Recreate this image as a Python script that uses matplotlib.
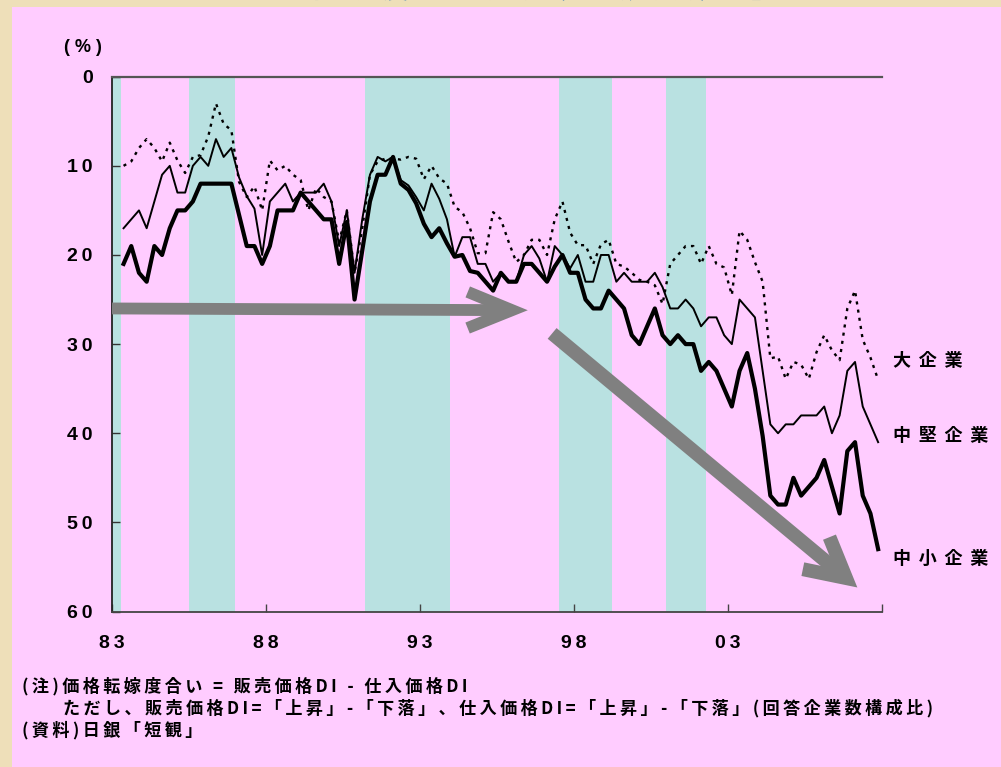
import numpy as np
import pandas as pd
import matplotlib.pyplot as plt
from matplotlib.patches import FancyArrowPatch, Rectangle

plt.rcParams['font.family'] = ['Noto Sans CJK JP', 'DejaVu Sans']

# Tankan survey dates (quarterly, May 1983 - Nov 2007), as decimal years
dates = pd.date_range('1983-05-01', periods=99, freq='3MS')
t = dates.year + (dates.month - 0.5) / 12

# price pass-through DI, shown as a negative depth (%)
large = [10, 9.5, 8, 7, 8, 9.5, 7.4, 9.4, 10.8, 9, 8.8, 6.7, 3, 5.3, 6, 11.8, 13.5, 12.3, 15, 9.4,
         10.5, 10, 11, 11.6, 15, 12.5, 13.5, 14, 18.5, 15, 22, 17, 11, 9.5, 9.2, 9.2, 9.3, 9, 9.2, 11.5,
         10, 11.4, 12, 14.6, 15.2, 17, 19.8, 19.8, 15.2, 16, 18.5, 20.8, 20, 18.3, 18.3, 20, 16, 14, 17.5, 18.9,
         18.9, 21, 18.8, 18.3, 21, 21.3, 22, 22.8, 23, 23.4, 25.5, 21, 20, 19, 19, 21, 19, 21, 21.4, 24.5,
         17.3, 18.3, 20.8, 23, 31.6, 31.4, 33.9, 32, 32.3, 33.9, 30.9, 29, 30.7, 31.8, 26, 24, 29.5, 31.5, 34]
medium = [17, 16, 15, 17, 14, 11, 10, 13, 13, 10, 9, 10, 7, 9, 8, 11.3, 13.4, 14.8, 20, 14,
          13, 12, 14, 13, 13, 13, 12, 14, 19, 15, 22, 16, 11, 9, 9.5, 9, 11.6, 12.2, 13.5, 15,
          12, 13.7, 16, 20.2, 18, 18, 21, 21, 23, 22, 23, 23, 20, 19, 20.4, 23, 19, 20, 21.5, 20,
          23, 23, 20, 20, 23, 22, 23, 23, 23, 22, 23.6, 26, 26, 25, 26, 28, 27, 27, 29, 30,
          25, 26, 27, 33, 39, 40, 39, 39, 38, 38, 38, 37, 40, 38, 33, 32, 37, 39, 41]
small = [21, 19, 22, 23, 19, 20, 17, 15, 15, 14, 12, 12, 12, 12, 12, 15.5, 19, 19, 21, 19,
         15, 15, 15, 13, 14, 15, 16, 16, 21, 16.3, 25, 19.5, 14, 11, 11, 9, 12, 12.7, 14.2, 16.5,
         18, 17, 18.7, 20.2, 20, 21.8, 22, 23, 24, 22, 23, 23, 21, 21, 22, 23, 21.3, 20, 22, 22,
         25, 26, 26, 24, 25, 26, 29, 30, 28, 26, 29, 30, 29, 30, 30, 33, 32, 33, 35, 37,
         33, 31, 35, 40.3, 47, 48, 48, 45, 47, 46, 45, 43, 46, 49, 42, 41, 47, 49, 53]

# recession periods (shaded)
recessions = [(1983.0, 1983.29), (1985.5, 1987.0), (1991.21, 1993.99),
              (1997.51, 1999.25), (2000.99, 2002.28)]

xticks = [1983, 1988, 1993, 1998, 2003, 2008]
xticklabels = ['83', '88', '93', '98', '03', '']

PINK = '#FFCCFF'
TEAL = '#B9E1E1'
ARROW = '#808080'
THIN = '\u2009'


def spaced(s):
    # widen the character pitch with thin spaces
    return THIN.join(s)


fig = plt.figure(figsize=(10.01, 7.67), dpi=100, facecolor='#EEDFB9')
fig.add_artist(Rectangle((12 / 1001, 0), 1, 760 / 767, transform=fig.transFigure,
                         facecolor=PINK, edgecolor='none', zorder=0))
# slide title, mostly above the top edge
fig.text(0.5, 1 + 2 / 767, '【　価格転嫁度合いの推移（企業規模別）　】', ha='center', va='baseline',
         fontsize=19, fontweight='bold', color='#1C6DB8', zorder=-1)

ax = fig.add_axes([0.1119, 0.2027, 0.7692, 0.6973])
ax.set_facecolor('none')

for a, b in recessions:
    ax.axvspan(a, b, color=TEAL, lw=0, zorder=0)

ax.plot(t, small, color='black', lw=3.0, zorder=3)
ax.plot(t, medium, color='black', lw=1.4, zorder=3)
ax.plot(t, large, color='black', lw=1.7, ls=(0, (1.3, 2.2)), zorder=3)

# trend arrows
for start, end, hl, hw, lw in [((1983.0, 26.0), (1996.5, 26.2), 32, 13, 8.5),
                               ((1997.29, 28.8), (2007.2, 57.3), 28, 15, 10)]:
    ax.add_patch(FancyArrowPatch(start, end, arrowstyle=f'->,head_length={hl},head_width={hw}',
                                 mutation_scale=1, lw=lw, color=ARROW, capstyle='butt',
                                 joinstyle='miter', shrinkA=0, shrinkB=0, zorder=5, clip_on=False))

ax.set_xlim(1983, 2008)
ax.set_ylim(60, 0)
ax.set_yticks(range(0, 61, 10))
ax.set_yticklabels([spaced(str(v)) for v in range(0, 61, 10)])
ax.set_xticks(xticks)
ax.set_xticklabels([spaced(s) for s in xticklabels])

ax.spines['right'].set_visible(False)
ax.spines['left'].set_color('#222222')
ax.spines['left'].set_linewidth(1.3)
ax.spines['bottom'].set_color('#444444')
ax.spines['bottom'].set_linewidth(1.3)
ax.spines['top'].set_color('#555555')
ax.spines['top'].set_linewidth(1.6)
ax.spines['top'].set_zorder(4)

ax.tick_params(axis='y', direction='in', length=6, width=1, color='#333333', pad=14)
ax.tick_params(axis='x', direction='in', length=6, width=1, color='#444444', pad=17)
for lab in ax.get_xticklabels() + ax.get_yticklabels():
    lab.set_fontfamily(['Liberation Sans', 'DejaVu Sans'])
    lab.set_fontweight('bold')
    lab.set_fontsize(14)

fig.text(83 / 1001, 1 - 47 / 767, '( % )', ha='center', va='center', fontsize=13,
         fontweight='bold', family='Liberation Sans')

# series labels at the right end
for label, y in [('大企業', 31.8), ('中堅企業', 40.3), ('中小企業', 54.0)]:
    ax.text(2008.35, y, (' ' + THIN).join(label), ha='left', va='center', fontsize=13,
            fontweight='bold', clip_on=False)

notes = ['(注)価格転嫁度合い = 販売価格DI - 仕入価格DI',
         '　　ただし、販売価格DI=「上昇」-「下落」、仕入価格DI=「上昇」-「下落」(回答企業数構成比)',
         '(資料)日銀「短観」']
for i, line in enumerate(notes):
    fig.text(22 / 1001, 1 - (686 + 22 * i) / 767, spaced(line), ha='left', va='center',
             fontsize=12.3, fontweight='bold')

fig.savefig('out.png', dpi=100, facecolor=fig.get_facecolor())
